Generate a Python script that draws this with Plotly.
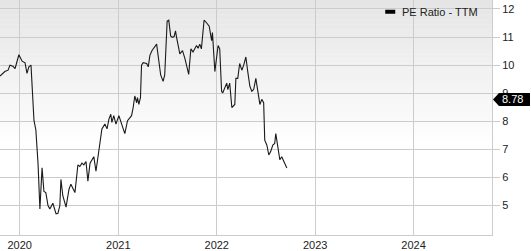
import plotly.graph_objects as go

dates = [
    "2019-10-20", "2019-11-07", "2019-11-19", "2019-11-26", "2019-12-07", "2019-12-15",
    "2019-12-29", "2020-01-10", "2020-01-21", "2020-01-28", "2020-02-04", "2020-02-12",
    "2020-02-23", "2020-03-01", "2020-03-09", "2020-03-16", "2020-03-24", "2020-03-31",
    "2020-04-07", "2020-04-15", "2020-04-22", "2020-05-03", "2020-05-15", "2020-05-22",
    "2020-05-29", "2020-06-02", "2020-06-09", "2020-06-21", "2020-07-02", "2020-07-09",
    "2020-07-17", "2020-07-24", "2020-08-04", "2020-08-11", "2020-08-19", "2020-08-26",
    "2020-09-03", "2020-09-10", "2020-09-18", "2020-09-25", "2020-10-02", "2020-10-10",
    "2020-10-17", "2020-10-25", "2020-11-01", "2020-11-12", "2020-11-20", "2020-11-27",
    "2020-12-04", "2020-12-08", "2020-12-15", "2020-12-23", "2020-12-29", "2021-01-03",
    "2021-01-13", "2021-01-25", "2021-02-04", "2021-02-19", "2021-02-25", "2021-03-03",
    "2021-03-10", "2021-03-13", "2021-03-18", "2021-03-24", "2021-03-28", "2021-04-03",
    "2021-04-16", "2021-04-22", "2021-04-28", "2021-05-06", "2021-05-23", "2021-05-29",
    "2021-06-07", "2021-06-16", "2021-06-22", "2021-07-01", "2021-07-07", "2021-07-14",
    "2021-07-20", "2021-07-27", "2021-08-01", "2021-08-05", "2021-08-17", "2021-08-27",
    "2021-09-05", "2021-09-19", "2021-09-27", "2021-10-05", "2021-10-18", "2021-10-24",
    "2021-10-30", "2021-11-05", "2021-11-15", "2021-11-24", "2021-12-04", "2021-12-13",
    "2021-12-16", "2021-12-25", "2022-01-06", "2022-01-12", "2022-01-19", "2022-01-23",
    "2022-01-31", "2022-02-07", "2022-02-11", "2022-02-18", "2022-02-26", "2022-03-09",
    "2022-03-13", "2022-03-20", "2022-03-27", "2022-04-04", "2022-04-11", "2022-04-19",
    "2022-04-26", "2022-05-04", "2022-05-11", "2022-05-18", "2022-05-26", "2022-06-02",
    "2022-06-10", "2022-06-17", "2022-06-24", "2022-06-28", "2022-07-06", "2022-07-13",
    "2022-07-20", "2022-07-28", "2022-08-04", "2022-08-08", "2022-08-15", "2022-08-23",
    "2022-08-30", "2022-09-07", "2022-09-18",
]

pe_ratio = [
    9.61, 9.77, 9.82, 10.0, 9.96, 9.88,
    10.37, 10.14, 10.08, 9.71, 9.94, 10.0,
    8.03, 7.69, 6.51, 4.88, 6.34, 5.5,
    5.46, 5.0, 4.88, 5.08, 4.7, 4.72,
    5.0, 5.93, 5.35, 4.94, 5.58, 5.76,
    5.6, 5.46, 6.45, 6.39, 6.51, 6.45,
    6.57, 5.87, 6.51, 6.63, 6.74, 6.22,
    6.68, 7.38, 7.73, 7.9, 7.73, 8.08,
    8.25, 7.96, 8.2, 7.9, 8.1, 8.2,
    7.91, 7.56, 8.02, 8.2, 8.49, 8.9,
    8.66, 8.84, 8.6, 8.84, 10.0, 10.09,
    10.06, 9.94, 10.35, 10.52, 10.75, 10.23,
    9.65, 9.42, 9.65, 11.57, 11.6, 11.04,
    10.99, 11.02, 11.22, 10.99, 10.4, 10.52,
    10.23, 9.67, 10.58, 10.47, 10.7, 10.6,
    10.75, 10.58, 11.6, 11.51, 11.39, 10.87,
    11.16, 9.77, 10.7, 10.58, 9.07, 9.01,
    9.18, 9.36, 9.13, 9.36, 8.49, 8.6,
    9.53, 9.53, 10.06, 9.82, 10.0, 10.29,
    9.77, 9.24, 9.07, 9.13, 9.53, 9.01,
    8.6, 8.78, 8.66, 7.33, 7.15, 6.8,
    6.92, 7.15, 7.21, 7.56, 7.03, 6.63,
    6.74, 6.57, 6.34,
]

series_name = "PE Ratio - TTM"
current_label = "8.78"
current_value = 8.78
y_ticks = [5, 6, 7, 8, 9, 10, 11, 12]
x_ticks = ["2020-01-01", "2021-01-01", "2022-01-01", "2023-01-01", "2024-01-01"]
x_tick_text = ["2020", "2021", "2022", "2023", "2024"]

FONT = "Liberation Sans, Arial, sans-serif"
GRID = "#cccccc"

fig = go.Figure()
fig.add_trace(go.Scatter(
    x=dates, y=pe_ratio, mode="lines", name=series_name,
    line=dict(color="#1a1a1a", width=1.1), showlegend=False,
))

shapes = []
# vertical gradient background (gray at top fading to white)
n = 30
plot_h = 240.0
fade_px = 150.0
for i in range(n):
    top = 1 - (i * fade_px / n) / plot_h
    bot = 1 - ((i + 1) * fade_px / n) / plot_h
    c = int(round(229 + (255 - 229) * (i + 0.5) / n))
    shapes.append(dict(type="rect", xref="paper", yref="paper", x0=0, x1=1,
                       y0=bot, y1=top + 0.001, fillcolor=f"rgb({c},{c},{c})",
                       line=dict(width=0), layer="below"))

# legend marker
shapes.append(dict(type="rect", xref="paper", yref="paper",
                   xsizemode="pixel", ysizemode="pixel",
                   xanchor=0.783, yanchor=0.95,
                   x0=0, x1=10, y0=-2, y1=2,
                   fillcolor="#000000", line=dict(width=0), layer="above"))

# current value badge
shapes.append(dict(type="path", xref="paper", yref="y",
                   xsizemode="pixel", ysizemode="pixel",
                   xanchor=1, yanchor=current_value,
                   path="M1,0 L7,6.5 L38,6.5 L38,-6.5 L7,-6.5 Z",
                   fillcolor="#000000", line=dict(width=0), layer="above"))

fig.update_layout(
    width=531, height=251,
    margin=dict(l=0, r=39, t=0, b=11),
    paper_bgcolor="#ffffff", plot_bgcolor="rgba(0,0,0,0)",
    font=dict(family=FONT, size=11, color="#222222"),
    showlegend=False,
    shapes=shapes,
    annotations=[
        dict(xref="paper", yref="paper", x=0.813, y=0.95, xanchor="left",
             yanchor="middle", text=series_name, showarrow=False,
             font=dict(family=FONT, size=11, color="#222222")),
        dict(xref="paper", yref="y", x=1, y=current_value, xanchor="left",
             yanchor="middle", xshift=8, text=current_label, showarrow=False,
             font=dict(family=FONT, size=11, color="#ffffff")),
    ],
    xaxis=dict(
        range=["2019-10-20", "2024-10-18"], tickvals=x_ticks, ticktext=x_tick_text,
        showgrid=True, gridcolor=GRID, gridwidth=1, ticks="", zeroline=False,
        showline=True, linecolor=GRID, linewidth=1, tickfont=dict(size=11, color="#222222"),
    ),
    yaxis=dict(
        side="right", range=[3.95, 12.32], tickvals=y_ticks,
        showgrid=True, gridcolor=GRID, gridwidth=1, zeroline=False,
        ticks="outside", ticklen=7, tickcolor=GRID, tickwidth=1,
        showline=True, linecolor=GRID, linewidth=1,
        tickfont=dict(size=11, color="#222222"),
    ),
)

fig.write_html("out.html")
